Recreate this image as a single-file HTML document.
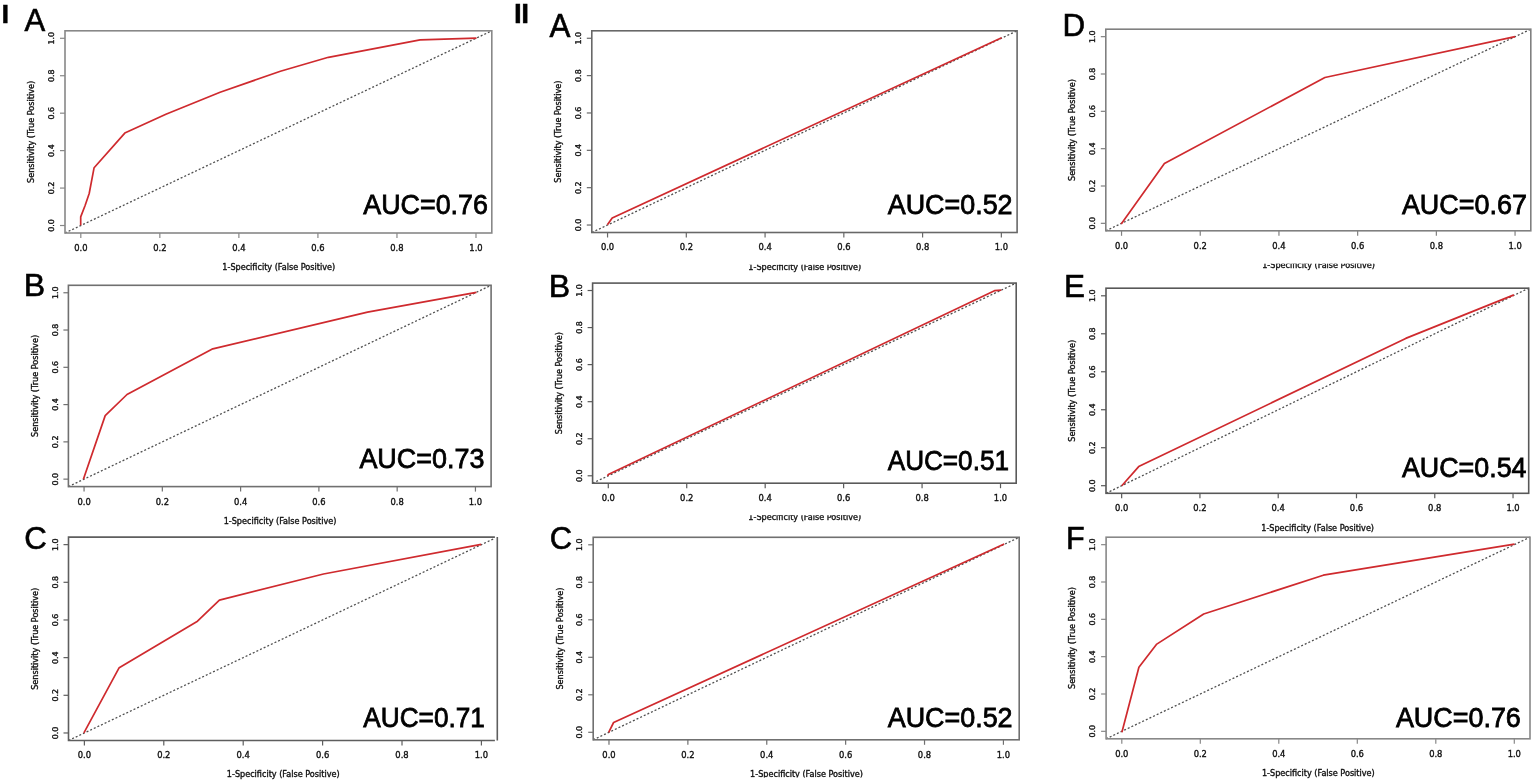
<!DOCTYPE html>
<html><head><meta charset="utf-8"><title>ROC curves</title>
<style>
html,body{margin:0;padding:0;background:#fff;}
body{width:1535px;height:782px;overflow:hidden;}
svg{display:block;}
.s{font-family:"DejaVu Sans",sans-serif;font-size:8.1px;fill:#111;stroke:#111;stroke-width:0.35px;}
.t{font-family:"DejaVu Sans",sans-serif;font-size:8.4px;fill:#111;stroke:#111;stroke-width:0.35px;}
.u{font-family:"DejaVu Sans",sans-serif;font-size:7.9px;fill:#111;stroke:#111;stroke-width:0.35px;}
</style></head><body>
<svg width="1535" height="782" viewBox="0 0 1535 782">
<rect width="1535" height="782" fill="#fff"/>
<defs><clipPath id="c2a" clipPathUnits="userSpaceOnUse"><rect x="0" y="264.7" width="1535" height="35.30"/></clipPath><clipPath id="c2b" clipPathUnits="userSpaceOnUse"><rect x="0" y="515.2" width="1535" height="44.80"/></clipPath><clipPath id="c2c" clipPathUnits="userSpaceOnUse"><rect x="0" y="700" width="1535" height="77.60"/></clipPath><clipPath id="cd" clipPathUnits="userSpaceOnUse"><rect x="0" y="263.8" width="1535" height="36.20"/></clipPath></defs>
<text transform="translate(1.45,22.55) scale(1.0514,1)" font-family="'Liberation Sans', sans-serif" font-size="26.09" font-weight="bold" fill="#000" stroke="#000" stroke-width="0.4">I</text>
<text x="513.94" y="22.57" font-family="'Liberation Sans', sans-serif" font-weight="bold" font-size="27.97" letter-spacing="-0.4" fill="#000" stroke="#000" stroke-width="0.4">II</text>
<line x1="65.00" y1="233.00" x2="491.80" y2="30.80" stroke="#505050" stroke-width="1.3" stroke-dasharray="2.0 2.0"/>
<polyline points="80.70,225.30 80.70,216.90 85.10,205.50 89.20,193.50 94.10,167.70 124.80,133.10 165.90,114.20 220.10,92.30 280.40,71.20 328.40,57.30 420.10,39.90 476.50,38.10" fill="none" stroke="#cf2a2e" stroke-width="1.7" stroke-linejoin="round"/>
<rect x="65.00" y="30.80" width="426.80" height="202.20" fill="none" stroke="#888" stroke-width="1.6"/>
<line x1="80.81" y1="233.00" x2="80.81" y2="238.00" stroke="#888" stroke-width="1.2"/>
<line x1="65.00" y1="225.51" x2="60.00" y2="225.51" stroke="#888" stroke-width="1.2"/>
<text x="80.81" y="250.90" text-anchor="middle" class="t">0.0</text>
<text transform="translate(54.10,225.51) rotate(-90)" text-anchor="middle" class="u">0.0</text>
<line x1="159.84" y1="233.00" x2="159.84" y2="238.00" stroke="#888" stroke-width="1.2"/>
<line x1="65.00" y1="188.07" x2="60.00" y2="188.07" stroke="#888" stroke-width="1.2"/>
<text x="159.84" y="250.90" text-anchor="middle" class="t">0.2</text>
<text transform="translate(54.10,188.07) rotate(-90)" text-anchor="middle" class="u">0.2</text>
<line x1="238.88" y1="233.00" x2="238.88" y2="238.00" stroke="#888" stroke-width="1.2"/>
<line x1="65.00" y1="150.62" x2="60.00" y2="150.62" stroke="#888" stroke-width="1.2"/>
<text x="238.88" y="250.90" text-anchor="middle" class="t">0.4</text>
<text transform="translate(54.10,150.62) rotate(-90)" text-anchor="middle" class="u">0.4</text>
<line x1="317.92" y1="233.00" x2="317.92" y2="238.00" stroke="#888" stroke-width="1.2"/>
<line x1="65.00" y1="113.18" x2="60.00" y2="113.18" stroke="#888" stroke-width="1.2"/>
<text x="317.92" y="250.90" text-anchor="middle" class="t">0.6</text>
<text transform="translate(54.10,113.18) rotate(-90)" text-anchor="middle" class="u">0.6</text>
<line x1="396.96" y1="233.00" x2="396.96" y2="238.00" stroke="#888" stroke-width="1.2"/>
<line x1="65.00" y1="75.73" x2="60.00" y2="75.73" stroke="#888" stroke-width="1.2"/>
<text x="396.96" y="250.90" text-anchor="middle" class="t">0.8</text>
<text transform="translate(54.10,75.73) rotate(-90)" text-anchor="middle" class="u">0.8</text>
<line x1="475.99" y1="233.00" x2="475.99" y2="238.00" stroke="#888" stroke-width="1.2"/>
<line x1="65.00" y1="38.29" x2="60.00" y2="38.29" stroke="#888" stroke-width="1.2"/>
<text x="475.99" y="250.90" text-anchor="middle" class="t">1.0</text>
<text transform="translate(54.10,38.29) rotate(-90)" text-anchor="middle" class="u">1.0</text>
<text x="278.70" y="269.85" text-anchor="middle" class="s">1-Specificity (False Positive)</text>
<text transform="translate(34.35,131.90) rotate(-90)" text-anchor="middle" class="s">Sensitivity (True Positive)</text>
<text transform="translate(363.30,213.62) scale(0.9484,1)" font-family="'Liberation Sans', sans-serif" font-size="28.31" font-weight="normal" fill="#000" stroke="#000" stroke-width="0.8">AUC=0.76</text>
<text transform="translate(24.40,31.10) scale(0.9831,1)" font-family="'Liberation Sans', sans-serif" font-size="31.59" font-weight="normal" fill="#000" stroke="#000" stroke-width="0.6">A</text>
<line x1="68.40" y1="486.60" x2="491.10" y2="285.30" stroke="#505050" stroke-width="1.3" stroke-dasharray="2.0 2.0"/>
<polyline points="83.40,479.30 105.20,415.60 127.00,394.50 212.80,348.80 367.50,312.20 476.40,292.40" fill="none" stroke="#cf2a2e" stroke-width="1.7" stroke-linejoin="round"/>
<rect x="68.40" y="285.30" width="422.70" height="201.30" fill="none" stroke="#707070" stroke-width="1.6"/>
<line x1="84.06" y1="486.60" x2="84.06" y2="491.60" stroke="#707070" stroke-width="1.2"/>
<line x1="68.40" y1="479.14" x2="63.40" y2="479.14" stroke="#707070" stroke-width="1.2"/>
<text x="84.06" y="504.50" text-anchor="middle" class="t">0.0</text>
<text transform="translate(57.50,479.14) rotate(-90)" text-anchor="middle" class="u">0.0</text>
<line x1="162.33" y1="486.60" x2="162.33" y2="491.60" stroke="#707070" stroke-width="1.2"/>
<line x1="68.40" y1="441.87" x2="63.40" y2="441.87" stroke="#707070" stroke-width="1.2"/>
<text x="162.33" y="504.50" text-anchor="middle" class="t">0.2</text>
<text transform="translate(57.50,441.87) rotate(-90)" text-anchor="middle" class="u">0.2</text>
<line x1="240.61" y1="486.60" x2="240.61" y2="491.60" stroke="#707070" stroke-width="1.2"/>
<line x1="68.40" y1="404.59" x2="63.40" y2="404.59" stroke="#707070" stroke-width="1.2"/>
<text x="240.61" y="504.50" text-anchor="middle" class="t">0.4</text>
<text transform="translate(57.50,404.59) rotate(-90)" text-anchor="middle" class="u">0.4</text>
<line x1="318.89" y1="486.60" x2="318.89" y2="491.60" stroke="#707070" stroke-width="1.2"/>
<line x1="68.40" y1="367.31" x2="63.40" y2="367.31" stroke="#707070" stroke-width="1.2"/>
<text x="318.89" y="504.50" text-anchor="middle" class="t">0.6</text>
<text transform="translate(57.50,367.31) rotate(-90)" text-anchor="middle" class="u">0.6</text>
<line x1="397.17" y1="486.60" x2="397.17" y2="491.60" stroke="#707070" stroke-width="1.2"/>
<line x1="68.40" y1="330.03" x2="63.40" y2="330.03" stroke="#707070" stroke-width="1.2"/>
<text x="397.17" y="504.50" text-anchor="middle" class="t">0.8</text>
<text transform="translate(57.50,330.03) rotate(-90)" text-anchor="middle" class="u">0.8</text>
<line x1="475.44" y1="486.60" x2="475.44" y2="491.60" stroke="#707070" stroke-width="1.2"/>
<line x1="68.40" y1="292.76" x2="63.40" y2="292.76" stroke="#707070" stroke-width="1.2"/>
<text x="475.44" y="504.50" text-anchor="middle" class="t">1.0</text>
<text transform="translate(57.50,292.76) rotate(-90)" text-anchor="middle" class="u">1.0</text>
<text x="280.05" y="523.70" text-anchor="middle" class="s">1-Specificity (False Positive)</text>
<text transform="translate(37.75,385.95) rotate(-90)" text-anchor="middle" class="s">Sensitivity (True Positive)</text>
<text transform="translate(359.40,468.22) scale(0.9757,1)" font-family="'Liberation Sans', sans-serif" font-size="27.61" font-weight="normal" fill="#000" stroke="#000" stroke-width="0.8">AUC=0.73</text>
<text transform="translate(23.73,296.20) scale(1.0015,1)" font-family="'Liberation Sans', sans-serif" font-size="32.03" font-weight="normal" fill="#000" stroke="#000" stroke-width="0.6">B</text>
<line x1="68.50" y1="740.50" x2="494.90" y2="538.24" stroke="#505050" stroke-width="1.3" stroke-dasharray="2.0 2.0"/>
<polyline points="83.90,732.80 119.20,667.70 197.50,621.20 219.40,600.10 323.50,574.00 481.20,544.40" fill="none" stroke="#cf2a2e" stroke-width="1.7" stroke-linejoin="round"/>
<path d="M68.50,537.10H494.90M68.50,740.50H494.90M68.50,536.30V741.30M497.30,537.10V740.50" fill="none" stroke="#5e5e5e" stroke-width="1.6"/>
<line x1="84.38" y1="740.50" x2="84.38" y2="745.50" stroke="#5e5e5e" stroke-width="1.2"/>
<line x1="68.50" y1="732.97" x2="63.50" y2="732.97" stroke="#5e5e5e" stroke-width="1.2"/>
<text x="84.38" y="758.40" text-anchor="middle" class="t">0.0</text>
<text transform="translate(57.60,732.97) rotate(-90)" text-anchor="middle" class="u">0.0</text>
<line x1="163.79" y1="740.50" x2="163.79" y2="745.50" stroke="#5e5e5e" stroke-width="1.2"/>
<line x1="68.50" y1="695.30" x2="63.50" y2="695.30" stroke="#5e5e5e" stroke-width="1.2"/>
<text x="163.79" y="758.40" text-anchor="middle" class="t">0.2</text>
<text transform="translate(57.60,695.30) rotate(-90)" text-anchor="middle" class="u">0.2</text>
<line x1="243.20" y1="740.50" x2="243.20" y2="745.50" stroke="#5e5e5e" stroke-width="1.2"/>
<line x1="68.50" y1="657.63" x2="63.50" y2="657.63" stroke="#5e5e5e" stroke-width="1.2"/>
<text x="243.20" y="758.40" text-anchor="middle" class="t">0.4</text>
<text transform="translate(57.60,657.63) rotate(-90)" text-anchor="middle" class="u">0.4</text>
<line x1="322.60" y1="740.50" x2="322.60" y2="745.50" stroke="#5e5e5e" stroke-width="1.2"/>
<line x1="68.50" y1="619.97" x2="63.50" y2="619.97" stroke="#5e5e5e" stroke-width="1.2"/>
<text x="322.60" y="758.40" text-anchor="middle" class="t">0.6</text>
<text transform="translate(57.60,619.97) rotate(-90)" text-anchor="middle" class="u">0.6</text>
<line x1="402.01" y1="740.50" x2="402.01" y2="745.50" stroke="#5e5e5e" stroke-width="1.2"/>
<line x1="68.50" y1="582.30" x2="63.50" y2="582.30" stroke="#5e5e5e" stroke-width="1.2"/>
<text x="402.01" y="758.40" text-anchor="middle" class="t">0.8</text>
<text transform="translate(57.60,582.30) rotate(-90)" text-anchor="middle" class="u">0.8</text>
<line x1="481.42" y1="740.50" x2="481.42" y2="745.50" stroke="#5e5e5e" stroke-width="1.2"/>
<line x1="68.50" y1="544.63" x2="63.50" y2="544.63" stroke="#5e5e5e" stroke-width="1.2"/>
<text x="481.42" y="758.40" text-anchor="middle" class="t">1.0</text>
<text transform="translate(57.60,544.63) rotate(-90)" text-anchor="middle" class="u">1.0</text>
<text x="283.20" y="777.30" text-anchor="middle" class="s">1-Specificity (False Positive)</text>
<text transform="translate(37.85,638.80) rotate(-90)" text-anchor="middle" class="s">Sensitivity (True Positive)</text>
<text transform="translate(363.30,726.52) scale(0.9351,1)" font-family="'Liberation Sans', sans-serif" font-size="28.03" font-weight="normal" fill="#000" stroke="#000" stroke-width="0.8">AUC=0.71</text>
<text transform="translate(24.34,549.08) scale(0.9867,1)" font-family="'Liberation Sans', sans-serif" font-size="31.69" font-weight="normal" fill="#000" stroke="#000" stroke-width="0.6">C</text>
<line x1="591.80" y1="232.50" x2="1017.10" y2="30.80" stroke="#505050" stroke-width="1.3" stroke-dasharray="2.0 2.0"/>
<polyline points="607.40,224.80 612.20,217.90 1001.60,37.80" fill="none" stroke="#cf2a2e" stroke-width="1.7" stroke-linejoin="round"/>
<rect x="591.80" y="30.80" width="425.30" height="201.70" fill="none" stroke="#686868" stroke-width="1.6"/>
<line x1="607.55" y1="232.50" x2="607.55" y2="237.50" stroke="#686868" stroke-width="1.2"/>
<line x1="591.80" y1="225.03" x2="586.80" y2="225.03" stroke="#686868" stroke-width="1.2"/>
<text x="607.55" y="250.40" text-anchor="middle" class="t">0.0</text>
<text transform="translate(580.90,225.03) rotate(-90)" text-anchor="middle" class="u">0.0</text>
<line x1="686.31" y1="232.50" x2="686.31" y2="237.50" stroke="#686868" stroke-width="1.2"/>
<line x1="591.80" y1="187.68" x2="586.80" y2="187.68" stroke="#686868" stroke-width="1.2"/>
<text x="686.31" y="250.40" text-anchor="middle" class="t">0.2</text>
<text transform="translate(580.90,187.68) rotate(-90)" text-anchor="middle" class="u">0.2</text>
<line x1="765.07" y1="232.50" x2="765.07" y2="237.50" stroke="#686868" stroke-width="1.2"/>
<line x1="591.80" y1="150.33" x2="586.80" y2="150.33" stroke="#686868" stroke-width="1.2"/>
<text x="765.07" y="250.40" text-anchor="middle" class="t">0.4</text>
<text transform="translate(580.90,150.33) rotate(-90)" text-anchor="middle" class="u">0.4</text>
<line x1="843.83" y1="232.50" x2="843.83" y2="237.50" stroke="#686868" stroke-width="1.2"/>
<line x1="591.80" y1="112.97" x2="586.80" y2="112.97" stroke="#686868" stroke-width="1.2"/>
<text x="843.83" y="250.40" text-anchor="middle" class="t">0.6</text>
<text transform="translate(580.90,112.97) rotate(-90)" text-anchor="middle" class="u">0.6</text>
<line x1="922.59" y1="232.50" x2="922.59" y2="237.50" stroke="#686868" stroke-width="1.2"/>
<line x1="591.80" y1="75.62" x2="586.80" y2="75.62" stroke="#686868" stroke-width="1.2"/>
<text x="922.59" y="250.40" text-anchor="middle" class="t">0.8</text>
<text transform="translate(580.90,75.62) rotate(-90)" text-anchor="middle" class="u">0.8</text>
<line x1="1001.35" y1="232.50" x2="1001.35" y2="237.50" stroke="#686868" stroke-width="1.2"/>
<line x1="591.80" y1="38.27" x2="586.80" y2="38.27" stroke="#686868" stroke-width="1.2"/>
<text x="1001.35" y="250.40" text-anchor="middle" class="t">1.0</text>
<text transform="translate(580.90,38.27) rotate(-90)" text-anchor="middle" class="u">1.0</text>
<text x="804.75" y="269.60" text-anchor="middle" class="s" clip-path="url(#c2a)">1-Specificity (False Positive)</text>
<text transform="translate(561.15,131.65) rotate(-90)" text-anchor="middle" class="s">Sensitivity (True Positive)</text>
<text transform="translate(887.70,213.62) scale(0.9504,1)" font-family="'Liberation Sans', sans-serif" font-size="28.31" font-weight="normal" fill="#000" stroke="#000" stroke-width="0.8">AUC=0.52</text>
<text transform="translate(549.40,36.50) scale(0.9691,1)" font-family="'Liberation Sans', sans-serif" font-size="32.36" font-weight="normal" fill="#000" stroke="#000" stroke-width="0.6">A</text>
<line x1="592.60" y1="483.20" x2="1016.20" y2="283.10" stroke="#505050" stroke-width="1.3" stroke-dasharray="2.0 2.0"/>
<polyline points="607.60,475.80 608.30,474.50 994.50,290.70 1001.20,290.20" fill="none" stroke="#cf2a2e" stroke-width="1.7" stroke-linejoin="round"/>
<rect x="592.60" y="283.10" width="423.60" height="200.10" fill="none" stroke="#5a5a5a" stroke-width="1.6"/>
<line x1="608.29" y1="483.20" x2="608.29" y2="488.20" stroke="#5a5a5a" stroke-width="1.2"/>
<line x1="592.60" y1="475.79" x2="587.60" y2="475.79" stroke="#5a5a5a" stroke-width="1.2"/>
<text x="608.29" y="501.10" text-anchor="middle" class="t">0.0</text>
<text transform="translate(581.70,475.79) rotate(-90)" text-anchor="middle" class="u">0.0</text>
<line x1="686.73" y1="483.20" x2="686.73" y2="488.20" stroke="#5a5a5a" stroke-width="1.2"/>
<line x1="592.60" y1="438.73" x2="587.60" y2="438.73" stroke="#5a5a5a" stroke-width="1.2"/>
<text x="686.73" y="501.10" text-anchor="middle" class="t">0.2</text>
<text transform="translate(581.70,438.73) rotate(-90)" text-anchor="middle" class="u">0.2</text>
<line x1="765.18" y1="483.20" x2="765.18" y2="488.20" stroke="#5a5a5a" stroke-width="1.2"/>
<line x1="592.60" y1="401.68" x2="587.60" y2="401.68" stroke="#5a5a5a" stroke-width="1.2"/>
<text x="765.18" y="501.10" text-anchor="middle" class="t">0.4</text>
<text transform="translate(581.70,401.68) rotate(-90)" text-anchor="middle" class="u">0.4</text>
<line x1="843.62" y1="483.20" x2="843.62" y2="488.20" stroke="#5a5a5a" stroke-width="1.2"/>
<line x1="592.60" y1="364.62" x2="587.60" y2="364.62" stroke="#5a5a5a" stroke-width="1.2"/>
<text x="843.62" y="501.10" text-anchor="middle" class="t">0.6</text>
<text transform="translate(581.70,364.62) rotate(-90)" text-anchor="middle" class="u">0.6</text>
<line x1="922.07" y1="483.20" x2="922.07" y2="488.20" stroke="#5a5a5a" stroke-width="1.2"/>
<line x1="592.60" y1="327.57" x2="587.60" y2="327.57" stroke="#5a5a5a" stroke-width="1.2"/>
<text x="922.07" y="501.10" text-anchor="middle" class="t">0.8</text>
<text transform="translate(581.70,327.57) rotate(-90)" text-anchor="middle" class="u">0.8</text>
<line x1="1000.51" y1="483.20" x2="1000.51" y2="488.20" stroke="#5a5a5a" stroke-width="1.2"/>
<line x1="592.60" y1="290.51" x2="587.60" y2="290.51" stroke="#5a5a5a" stroke-width="1.2"/>
<text x="1000.51" y="501.10" text-anchor="middle" class="t">1.0</text>
<text transform="translate(581.70,290.51) rotate(-90)" text-anchor="middle" class="u">1.0</text>
<text x="804.70" y="520.10" text-anchor="middle" class="s" clip-path="url(#c2b)">1-Specificity (False Positive)</text>
<text transform="translate(561.95,383.15) rotate(-90)" text-anchor="middle" class="s">Sensitivity (True Positive)</text>
<text transform="translate(887.70,469.82) scale(0.9281,1)" font-family="'Liberation Sans', sans-serif" font-size="28.17" font-weight="normal" fill="#000" stroke="#000" stroke-width="0.8">AUC=0.51</text>
<text transform="translate(548.83,296.80) scale(1.0106,1)" font-family="'Liberation Sans', sans-serif" font-size="31.74" font-weight="normal" fill="#000" stroke="#000" stroke-width="0.6">B</text>
<line x1="593.20" y1="739.80" x2="1019.20" y2="537.30" stroke="#505050" stroke-width="1.3" stroke-dasharray="2.0 2.0"/>
<polyline points="608.70,732.30 613.60,722.50 1004.20,543.90" fill="none" stroke="#cf2a2e" stroke-width="1.7" stroke-linejoin="round"/>
<rect x="593.20" y="537.30" width="426.00" height="202.50" fill="none" stroke="#707070" stroke-width="1.6"/>
<line x1="608.98" y1="739.80" x2="608.98" y2="744.80" stroke="#707070" stroke-width="1.2"/>
<line x1="593.20" y1="732.30" x2="588.20" y2="732.30" stroke="#707070" stroke-width="1.2"/>
<text x="608.98" y="757.70" text-anchor="middle" class="t">0.0</text>
<text transform="translate(582.30,732.30) rotate(-90)" text-anchor="middle" class="u">0.0</text>
<line x1="687.87" y1="739.80" x2="687.87" y2="744.80" stroke="#707070" stroke-width="1.2"/>
<line x1="593.20" y1="694.80" x2="588.20" y2="694.80" stroke="#707070" stroke-width="1.2"/>
<text x="687.87" y="757.70" text-anchor="middle" class="t">0.2</text>
<text transform="translate(582.30,694.80) rotate(-90)" text-anchor="middle" class="u">0.2</text>
<line x1="766.76" y1="739.80" x2="766.76" y2="744.80" stroke="#707070" stroke-width="1.2"/>
<line x1="593.20" y1="657.30" x2="588.20" y2="657.30" stroke="#707070" stroke-width="1.2"/>
<text x="766.76" y="757.70" text-anchor="middle" class="t">0.4</text>
<text transform="translate(582.30,657.30) rotate(-90)" text-anchor="middle" class="u">0.4</text>
<line x1="845.64" y1="739.80" x2="845.64" y2="744.80" stroke="#707070" stroke-width="1.2"/>
<line x1="593.20" y1="619.80" x2="588.20" y2="619.80" stroke="#707070" stroke-width="1.2"/>
<text x="845.64" y="757.70" text-anchor="middle" class="t">0.6</text>
<text transform="translate(582.30,619.80) rotate(-90)" text-anchor="middle" class="u">0.6</text>
<line x1="924.53" y1="739.80" x2="924.53" y2="744.80" stroke="#707070" stroke-width="1.2"/>
<line x1="593.20" y1="582.30" x2="588.20" y2="582.30" stroke="#707070" stroke-width="1.2"/>
<text x="924.53" y="757.70" text-anchor="middle" class="t">0.8</text>
<text transform="translate(582.30,582.30) rotate(-90)" text-anchor="middle" class="u">0.8</text>
<line x1="1003.42" y1="739.80" x2="1003.42" y2="744.80" stroke="#707070" stroke-width="1.2"/>
<line x1="593.20" y1="544.80" x2="588.20" y2="544.80" stroke="#707070" stroke-width="1.2"/>
<text x="1003.42" y="757.70" text-anchor="middle" class="t">1.0</text>
<text transform="translate(582.30,544.80) rotate(-90)" text-anchor="middle" class="u">1.0</text>
<text x="806.50" y="776.70" text-anchor="middle" class="s" clip-path="url(#c2c)">1-Specificity (False Positive)</text>
<text transform="translate(562.55,638.55) rotate(-90)" text-anchor="middle" class="s">Sensitivity (True Positive)</text>
<text transform="translate(887.70,726.52) scale(0.9600,1)" font-family="'Liberation Sans', sans-serif" font-size="28.03" font-weight="normal" fill="#000" stroke="#000" stroke-width="0.8">AUC=0.52</text>
<text transform="translate(549.65,549.08) scale(0.9767,1)" font-family="'Liberation Sans', sans-serif" font-size="31.69" font-weight="normal" fill="#000" stroke="#000" stroke-width="0.6">C</text>
<line x1="1105.80" y1="230.80" x2="1530.80" y2="29.20" stroke="#505050" stroke-width="1.3" stroke-dasharray="2.0 2.0"/>
<polyline points="1121.20,224.00 1164.40,163.60 1324.90,77.50 1515.10,36.60" fill="none" stroke="#cf2a2e" stroke-width="1.7" stroke-linejoin="round"/>
<rect x="1105.80" y="29.20" width="425.00" height="201.60" fill="none" stroke="#808080" stroke-width="1.6"/>
<line x1="1121.54" y1="230.80" x2="1121.54" y2="235.80" stroke="#808080" stroke-width="1.2"/>
<line x1="1105.80" y1="223.33" x2="1100.80" y2="223.33" stroke="#808080" stroke-width="1.2"/>
<text x="1121.54" y="248.70" text-anchor="middle" class="t">0.0</text>
<text transform="translate(1094.90,223.33) rotate(-90)" text-anchor="middle" class="u">0.0</text>
<line x1="1200.24" y1="230.80" x2="1200.24" y2="235.80" stroke="#808080" stroke-width="1.2"/>
<line x1="1105.80" y1="186.00" x2="1100.80" y2="186.00" stroke="#808080" stroke-width="1.2"/>
<text x="1200.24" y="248.70" text-anchor="middle" class="t">0.2</text>
<text transform="translate(1094.90,186.00) rotate(-90)" text-anchor="middle" class="u">0.2</text>
<line x1="1278.95" y1="230.80" x2="1278.95" y2="235.80" stroke="#808080" stroke-width="1.2"/>
<line x1="1105.80" y1="148.67" x2="1100.80" y2="148.67" stroke="#808080" stroke-width="1.2"/>
<text x="1278.95" y="248.70" text-anchor="middle" class="t">0.4</text>
<text transform="translate(1094.90,148.67) rotate(-90)" text-anchor="middle" class="u">0.4</text>
<line x1="1357.65" y1="230.80" x2="1357.65" y2="235.80" stroke="#808080" stroke-width="1.2"/>
<line x1="1105.80" y1="111.33" x2="1100.80" y2="111.33" stroke="#808080" stroke-width="1.2"/>
<text x="1357.65" y="248.70" text-anchor="middle" class="t">0.6</text>
<text transform="translate(1094.90,111.33) rotate(-90)" text-anchor="middle" class="u">0.6</text>
<line x1="1436.36" y1="230.80" x2="1436.36" y2="235.80" stroke="#808080" stroke-width="1.2"/>
<line x1="1105.80" y1="74.00" x2="1100.80" y2="74.00" stroke="#808080" stroke-width="1.2"/>
<text x="1436.36" y="248.70" text-anchor="middle" class="t">0.8</text>
<text transform="translate(1094.90,74.00) rotate(-90)" text-anchor="middle" class="u">0.8</text>
<line x1="1515.06" y1="230.80" x2="1515.06" y2="235.80" stroke="#808080" stroke-width="1.2"/>
<line x1="1105.80" y1="36.67" x2="1100.80" y2="36.67" stroke="#808080" stroke-width="1.2"/>
<text x="1515.06" y="248.70" text-anchor="middle" class="t">1.0</text>
<text transform="translate(1094.90,36.67) rotate(-90)" text-anchor="middle" class="u">1.0</text>
<text x="1318.60" y="268.15" text-anchor="middle" class="s" clip-path="url(#cd)">1-Specificity (False Positive)</text>
<text transform="translate(1075.15,130.00) rotate(-90)" text-anchor="middle" class="s">Sensitivity (True Positive)</text>
<text transform="translate(1401.90,213.62) scale(0.9527,1)" font-family="'Liberation Sans', sans-serif" font-size="28.31" font-weight="normal" fill="#000" stroke="#000" stroke-width="0.8">AUC=0.67</text>
<text transform="translate(1062.49,36.20) scale(0.9834,1)" font-family="'Liberation Sans', sans-serif" font-size="31.88" font-weight="normal" fill="#000" stroke="#000" stroke-width="0.6">D</text>
<line x1="1106.00" y1="493.30" x2="1528.70" y2="288.20" stroke="#505050" stroke-width="1.3" stroke-dasharray="2.0 2.0"/>
<polyline points="1121.80,485.70 1138.70,466.60 1405.70,338.40 1513.90,294.90" fill="none" stroke="#cf2a2e" stroke-width="1.7" stroke-linejoin="round"/>
<rect x="1106.00" y="288.20" width="422.70" height="205.10" fill="none" stroke="#585858" stroke-width="1.6"/>
<line x1="1121.66" y1="493.30" x2="1121.66" y2="498.30" stroke="#585858" stroke-width="1.2"/>
<line x1="1106.00" y1="485.70" x2="1101.00" y2="485.70" stroke="#585858" stroke-width="1.2"/>
<text x="1121.66" y="511.20" text-anchor="middle" class="t">0.0</text>
<text transform="translate(1095.10,485.70) rotate(-90)" text-anchor="middle" class="u">0.0</text>
<line x1="1199.93" y1="493.30" x2="1199.93" y2="498.30" stroke="#585858" stroke-width="1.2"/>
<line x1="1106.00" y1="447.72" x2="1101.00" y2="447.72" stroke="#585858" stroke-width="1.2"/>
<text x="1199.93" y="511.20" text-anchor="middle" class="t">0.2</text>
<text transform="translate(1095.10,447.72) rotate(-90)" text-anchor="middle" class="u">0.2</text>
<line x1="1278.21" y1="493.30" x2="1278.21" y2="498.30" stroke="#585858" stroke-width="1.2"/>
<line x1="1106.00" y1="409.74" x2="1101.00" y2="409.74" stroke="#585858" stroke-width="1.2"/>
<text x="1278.21" y="511.20" text-anchor="middle" class="t">0.4</text>
<text transform="translate(1095.10,409.74) rotate(-90)" text-anchor="middle" class="u">0.4</text>
<line x1="1356.49" y1="493.30" x2="1356.49" y2="498.30" stroke="#585858" stroke-width="1.2"/>
<line x1="1106.00" y1="371.76" x2="1101.00" y2="371.76" stroke="#585858" stroke-width="1.2"/>
<text x="1356.49" y="511.20" text-anchor="middle" class="t">0.6</text>
<text transform="translate(1095.10,371.76) rotate(-90)" text-anchor="middle" class="u">0.6</text>
<line x1="1434.77" y1="493.30" x2="1434.77" y2="498.30" stroke="#585858" stroke-width="1.2"/>
<line x1="1106.00" y1="333.78" x2="1101.00" y2="333.78" stroke="#585858" stroke-width="1.2"/>
<text x="1434.77" y="511.20" text-anchor="middle" class="t">0.8</text>
<text transform="translate(1095.10,333.78) rotate(-90)" text-anchor="middle" class="u">0.8</text>
<line x1="1513.04" y1="493.30" x2="1513.04" y2="498.30" stroke="#585858" stroke-width="1.2"/>
<line x1="1106.00" y1="295.80" x2="1101.00" y2="295.80" stroke="#585858" stroke-width="1.2"/>
<text x="1513.04" y="511.20" text-anchor="middle" class="t">1.0</text>
<text transform="translate(1095.10,295.80) rotate(-90)" text-anchor="middle" class="u">1.0</text>
<text x="1317.65" y="531.00" text-anchor="middle" class="s">1-Specificity (False Positive)</text>
<text transform="translate(1075.35,390.75) rotate(-90)" text-anchor="middle" class="s">Sensitivity (True Positive)</text>
<text transform="translate(1401.90,476.92) scale(0.9533,1)" font-family="'Liberation Sans', sans-serif" font-size="28.17" font-weight="normal" fill="#000" stroke="#000" stroke-width="0.8">AUC=0.54</text>
<text transform="translate(1063.98,297.00) scale(0.9829,1)" font-family="'Liberation Sans', sans-serif" font-size="32.03" font-weight="normal" fill="#000" stroke="#000" stroke-width="0.6">E</text>
<line x1="1106.10" y1="738.80" x2="1530.00" y2="537.20" stroke="#505050" stroke-width="1.3" stroke-dasharray="2.0 2.0"/>
<polyline points="1121.90,732.20 1138.90,667.20 1156.40,644.40 1203.70,614.00 1323.30,575.20 1514.50,544.20" fill="none" stroke="#cf2a2e" stroke-width="1.7" stroke-linejoin="round"/>
<rect x="1106.10" y="537.20" width="423.90" height="201.60" fill="none" stroke="#888" stroke-width="1.6"/>
<line x1="1121.80" y1="738.80" x2="1121.80" y2="743.80" stroke="#888" stroke-width="1.2"/>
<line x1="1106.10" y1="731.33" x2="1101.10" y2="731.33" stroke="#888" stroke-width="1.2"/>
<text x="1121.80" y="756.70" text-anchor="middle" class="t">0.0</text>
<text transform="translate(1095.20,731.33) rotate(-90)" text-anchor="middle" class="u">0.0</text>
<line x1="1200.30" y1="738.80" x2="1200.30" y2="743.80" stroke="#888" stroke-width="1.2"/>
<line x1="1106.10" y1="694.00" x2="1101.10" y2="694.00" stroke="#888" stroke-width="1.2"/>
<text x="1200.30" y="756.70" text-anchor="middle" class="t">0.2</text>
<text transform="translate(1095.20,694.00) rotate(-90)" text-anchor="middle" class="u">0.2</text>
<line x1="1278.80" y1="738.80" x2="1278.80" y2="743.80" stroke="#888" stroke-width="1.2"/>
<line x1="1106.10" y1="656.67" x2="1101.10" y2="656.67" stroke="#888" stroke-width="1.2"/>
<text x="1278.80" y="756.70" text-anchor="middle" class="t">0.4</text>
<text transform="translate(1095.20,656.67) rotate(-90)" text-anchor="middle" class="u">0.4</text>
<line x1="1357.30" y1="738.80" x2="1357.30" y2="743.80" stroke="#888" stroke-width="1.2"/>
<line x1="1106.10" y1="619.33" x2="1101.10" y2="619.33" stroke="#888" stroke-width="1.2"/>
<text x="1357.30" y="756.70" text-anchor="middle" class="t">0.6</text>
<text transform="translate(1095.20,619.33) rotate(-90)" text-anchor="middle" class="u">0.6</text>
<line x1="1435.80" y1="738.80" x2="1435.80" y2="743.80" stroke="#888" stroke-width="1.2"/>
<line x1="1106.10" y1="582.00" x2="1101.10" y2="582.00" stroke="#888" stroke-width="1.2"/>
<text x="1435.80" y="756.70" text-anchor="middle" class="t">0.8</text>
<text transform="translate(1095.20,582.00) rotate(-90)" text-anchor="middle" class="u">0.8</text>
<line x1="1514.30" y1="738.80" x2="1514.30" y2="743.80" stroke="#888" stroke-width="1.2"/>
<line x1="1106.10" y1="544.67" x2="1101.10" y2="544.67" stroke="#888" stroke-width="1.2"/>
<text x="1514.30" y="756.70" text-anchor="middle" class="t">1.0</text>
<text transform="translate(1095.20,544.67) rotate(-90)" text-anchor="middle" class="u">1.0</text>
<text x="1318.35" y="775.70" text-anchor="middle" class="s">1-Specificity (False Positive)</text>
<text transform="translate(1075.45,638.00) rotate(-90)" text-anchor="middle" class="s">Sensitivity (True Positive)</text>
<text transform="translate(1395.90,726.52) scale(0.9610,1)" font-family="'Liberation Sans', sans-serif" font-size="28.03" font-weight="normal" fill="#000" stroke="#000" stroke-width="0.8">AUC=0.76</text>
<text transform="translate(1066.05,548.90) scale(0.9779,1)" font-family="'Liberation Sans', sans-serif" font-size="31.30" font-weight="normal" fill="#000" stroke="#000" stroke-width="0.6">F</text>
</svg>
</body></html>
